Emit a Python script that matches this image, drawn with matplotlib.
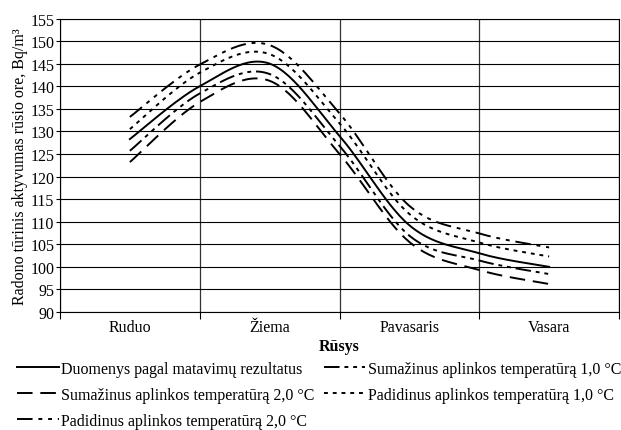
import numpy as np
import matplotlib.pyplot as plt

plt.rcParams['font.family'] = ['Liberation Serif', 'DejaVu Serif']
plt.rcParams['font.size'] = 11.5

seasons = ['Ruduo', 'Žiema', 'Pavasaris', 'Vasara']
# points at the season centres and at the borders between seasons
x_pts = [0, 0.5, 1, 1.5, 2, 2.5, 3]
measured = [128.3, 140.0, 145.0, 129.0, 109.2, 103.0, 100.0]
minus_1 = [125.7, 138.4, 142.7, 126.8, 106.9, 101.4, 98.4]
minus_2 = [123.2, 136.5, 141.2, 125.0, 105.5, 99.3, 96.2]
plus_1 = [130.5, 143.0, 147.1, 131.8, 111.7, 105.4, 102.3]
plus_2 = [133.2, 144.8, 149.1, 134.0, 113.5, 107.4, 104.3]

labels = ['Duomenys pagal matavimų rezultatus',
          'Sumažinus aplinkos temperatūrą 1,0 °C',
          'Sumažinus aplinkos temperatūrą 2,0 °C',
          'Padidinus aplinkos temperatūrą 1,0 °C',
          'Padidinus aplinkos temperatūrą 2,0 °C']


# Excel-like smoothed line (bezier through the points)
def smooth(x, y, n=30):
    p = np.column_stack([x, y]).astype(float)
    p = np.vstack([p[0], p, p[-1]])
    t = np.linspace(0, 1, n)[:, None]
    out = []
    for i in range(1, len(p) - 2):
        p0, p1, p2, p3 = p[i-1], p[i], p[i+1], p[i+2]
        c1 = p1 + (p2 - p0) / 6
        c2 = p2 - (p3 - p1) / 6
        seg = (1-t)**3*p1 + 3*(1-t)**2*t*c1 + 3*(1-t)*t**2*c2 + t**3*p2
        out.append(seg)
    out = np.vstack(out)
    return out[:, 0], out[:, 1]


fig = plt.figure(figsize=(6.21, 4.31), dpi=100)
ax = fig.add_axes([60/621, 1-313/431, 559/621, 293.5/431])

styles = {
    'measured': '-',
    'minus_1': (0, (8, 2.5, 2, 2.5, 2, 2.5)),
    'minus_2': (0, (8, 4)),
    'plus_1': (0, (2, 2.5)),
    'plus_2': (0, (8, 3, 2, 3, 2, 3)),
}
series = {'measured': measured, 'minus_1': minus_1, 'minus_2': minus_2,
          'plus_1': plus_1, 'plus_2': plus_2}
handles = {}
for (key, vals), lab in zip(series.items(), labels):
    xs, ys = smooth(x_pts, vals)
    h, = ax.plot(xs, ys, color='k', lw=1.4, ls=styles[key], label=lab)
    handles[key] = h

ax.set_xlim(-0.5, 3.5)
ax.set_ylim(90, 155)
ax.set_yticks(np.arange(90, 156, 5))
ax.set_xticks(range(4))
ax.set_xticklabels(seasons)
ax.set_xticks([-0.5, 0.5, 1.5, 2.5, 3.5], minor=True)
ax.tick_params(axis='x', which='major', length=0, pad=5)
ax.tick_params(axis='x', which='minor', length=5, width=0.8)
ax.tick_params(axis='y', length=3, width=0.8, pad=1)
ax.grid(axis='y', color='k', lw=0.8)
ax.grid(axis='x', which='minor', color='#333333', lw=0.9)
for s in ax.spines.values():
    s.set_linewidth(0.8)
ax.set_axisbelow(True)

ax.set_xlabel('Rūsys', fontweight='bold', labelpad=2)
ax.set_ylabel('Radono tūrinis aktyvumas rūsio ore, Bq/m³', labelpad=2)

order = ['measured', 'minus_2', 'plus_2', 'minus_1', 'plus_1']
fig.legend([handles[k] for k in order], [handles[k].get_label() for k in order],
           loc='upper left', bbox_to_anchor=(17/621, 1-362/431), ncol=2,
           frameon=False, borderpad=0, handlelength=2.6, handletextpad=0.15,
           columnspacing=0.6, labelspacing=0.62, borderaxespad=0)

fig.savefig('out.png', dpi=100)
